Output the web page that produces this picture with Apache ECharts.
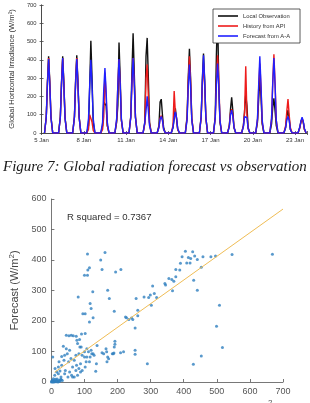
<!DOCTYPE html>
<html>
<head>
<meta charset="utf-8">
<script src="https://cdn.jsdelivr.net/npm/echarts@6/dist/echarts.min.js"></script>
<style>
html, body { margin: 0; padding: 0; background: #fff; }
#chart { width: 310px; height: 403px; }
</style>
</head>
<body>
<div id="chart"></div>
<script>
// top panel: one row per day (5 Jan .. 23 Jan), samples at these hours
var hours = [5, 8, 10, 12, 14, 16, 19];
var dayTicks = ['5 Jan', '8 Jan', '11 Jan', '14 Jan', '17 Jan', '20 Jan', '23 Jan'];
var irrTicks = [0, 100, 200, 300, 400, 500, 600, 700];

var obsDays = [
	[0, 90, 280, 420, 280, 90, 0],
	[0, 90, 280, 420, 275, 85, 0],
	[0, 90, 285, 425, 280, 90, 0],
	[0, 40, 250, 505, 300, 60, 0],
	[0, 40, 170, 180, 150, 40, 0],
	[0, 60, 150, 495, 300, 70, 0],
	[0, 90, 330, 545, 330, 90, 0],
	[0, 60, 420, 520, 300, 60, 0],
	[0, 40, 170, 185, 100, 30, 0],
	[0, 30, 80, 135, 80, 20, 0],
	[0, 90, 300, 460, 300, 80, 0],
	[0, 90, 290, 435, 290, 85, 0],
	[0, 90, 430, 670, 260, 60, 0],
	[0, 40, 130, 195, 120, 30, 0],
	[0, 40, 120, 210, 150, 30, 0],
	[0, 60, 180, 300, 200, 50, 0],
	[0, 50, 140, 190, 120, 40, 0],
	[0, 30, 90, 125, 80, 20, 0],
	[0, 30, 60, 80, 60, 20, 0]
];
var apiDays = [
	[0, 85, 270, 410, 270, 85, 0],
	[0, 85, 270, 410, 265, 80, 0],
	[0, 85, 275, 410, 270, 85, 0],
	[0, 20, 100, 90, 60, 15, 0],
	[0, 20, 90, 330, 200, 40, 0],
	[0, 70, 260, 400, 260, 70, 0],
	[0, 85, 270, 410, 270, 85, 0],
	[0, 50, 300, 375, 200, 50, 0],
	[0, 30, 80, 95, 70, 20, 0],
	[0, 40, 230, 110, 80, 20, 0],
	[0, 80, 280, 420, 280, 80, 0],
	[0, 80, 260, 380, 260, 80, 0],
	[0, 80, 280, 425, 300, 70, 0],
	[0, 40, 110, 130, 100, 30, 0],
	[0, 40, 110, 365, 100, 25, 0],
	[0, 70, 240, 380, 250, 60, 0],
	[0, 80, 280, 430, 270, 70, 0],
	[0, 40, 120, 185, 100, 30, 0],
	[0, 25, 60, 80, 60, 20, 0]
];
var fcDays = [
	[0, 85, 270, 405, 265, 85, 0],
	[0, 85, 265, 410, 260, 80, 0],
	[0, 85, 270, 405, 265, 85, 0],
	[0, 80, 260, 400, 260, 80, 0],
	[0, 60, 240, 355, 230, 60, 0],
	[0, 80, 265, 405, 265, 80, 0],
	[0, 85, 270, 410, 270, 85, 0],
	[0, 60, 120, 200, 120, 40, 0],
	[0, 30, 75, 90, 70, 20, 0],
	[0, 30, 80, 115, 85, 25, 0],
	[0, 70, 250, 375, 250, 70, 0],
	[0, 85, 280, 425, 280, 85, 0],
	[0, 80, 260, 380, 260, 70, 0],
	[0, 35, 100, 125, 90, 30, 0],
	[0, 35, 90, 100, 85, 25, 0],
	[0, 80, 260, 420, 260, 70, 0],
	[0, 80, 270, 410, 260, 70, 0],
	[0, 30, 70, 90, 70, 20, 0],
	[0, 30, 65, 87, 65, 25, 0]
];

// bottom panel: observed vs forecast (W/m2)
var scatterPts = [
	[109,420],[162,425],[149,400],[115,375],[110,367],[100,350],[109,350],[153,369],[125,296],[170,301],
	[194,361],[210,369],[175,274],[81,279],[117,257],[120,241],[95,224],[102,224],[126,211],[115,197],
	[190,232],[102,159],[91,157],[45,153],[53,152],[60,153],[66,152],[75,150],[85,139],[36,117],
	[405,429],[427,427],[433,413],[395,411],[414,408],[421,405],[441,402],[458,411],[482,411],[496,413],
	[546,418],[668,419],[409,390],[390,389],[419,390],[453,376],[376,369],[388,367],[355,339],[364,336],
	[376,345],[370,330],[343,323],[345,318],[306,315],[430,334],[441,301],[366,299],[311,290],[280,279],
	[299,285],[294,277],[318,277],[256,274],[508,252],[302,252],[261,235],[242,210],[227,211],[234,205],
	[246,205],[224,213],[261,217],[499,183],[253,177],[517,113],[453,85],[429,58],[290,60],[253,104],
	[253,91],[218,99],[209,96],[192,134],[192,124],[190,115],[189,95],[165,109],[167,99],[153,96],
	[158,93],[170,82],[168,66],[136,60],[134,35],[138,120],[184,93],[173,76],[187,93],
	[4,82],[11,44],[16,33],[21,27],[10,22],[26,36],[31,55],[23,66],[38,71],[31,84],
	[40,88],[48,93],[45,109],[55,104],[59,77],[52,66],[69,71],[64,49],[55,33],[40,27],
	[74,38],[79,22],[69,16],[83,44],[88,60],[83,93],[74,88],[93,88],[86,115],[90,115],
	[79,126],[77,137],[100,99],[107,109],[112,99],[117,82],[115,66],[122,93],[105,66],[102,49],
	[93,38],[64,16],[88,33],[50,16],[61,22],[76,55],[100,82],[107,82],[126,93],[129,88],
	[120,104],[29,16],[42,38],[21,49],
	[0,0],[2,3],[5,1],[8,4],[3,6],[10,2],[14,5],[18,3],[22,6],[26,4],
	[12,9],[30,7],[6,11],[17,10],[1,2],[4,0],[20,0],[9,0],[15,1],[24,2],[28,9],[33,5]
];
var trendX = [10, 700];
var trendY = [32, 567];
var rSquared = 0.7367;
var obsTicks = [0, 100, 200, 300, 400, 500, 600, 700];
var fcTicks = [0, 100, 200, 300, 400, 500, 600];

function daySeries(days) {
	var out = [];
	days.forEach(function (vals, d) {
		vals.forEach(function (v, k) {
			out.push([d + hours[k] / 24, v]);
		});
	});
	return out;
}

var chart = echarts.init(document.getElementById('chart'), null, { renderer: 'canvas' });
var sans = 'Liberation Sans, Arial, sans-serif';
var axisCol = '#444';

function boxAxis(extra) {
	return Object.assign({
		axisLine: { show: true, lineStyle: { color: axisCol, width: 0.8 } },
		axisTick: { show: true, inside: true, length: 2, lineStyle: { color: axisCol, width: 0.8 } },
		splitLine: { show: false }
	}, extra);
}

var option = {
	animation: false,
	backgroundColor: '#fff',
	grid: [
		{ left: 27, top: 5, width: 281, height: 128 },
		{ left: 39, top: 199, width: 244, height: 183 }
	],
	legend: {
		data: ['Local Observation', 'History from API', 'Forecast from A-A'],
		orient: 'vertical',
		left: 213, top: 9,
		backgroundColor: '#fff',
		borderColor: '#333', borderWidth: 0.8, borderRadius: 0,
		padding: [3, 10, 3, 5],
		itemWidth: 20, itemHeight: 1.6, itemGap: 2,
		icon: 'rect',
		textStyle: { fontFamily: sans, fontSize: 5.8, color: '#333', lineHeight: 8 }
	},
	xAxis: [
		boxAxis({
			gridIndex: 0, type: 'value', min: 0, max: 18.85, interval: 3,
			axisLabel: {
				fontFamily: sans, fontSize: 6, color: '#333', margin: 4,
				formatter: function (v) {
					var i = Math.round(v / 3);
					return Math.abs(v - i * 3) < 1e-6 ? (dayTicks[i] || '') : '';
				}
			}
		}),
		boxAxis({
			gridIndex: 0, type: 'value', min: 0, max: 18.85, interval: 3, position: 'top',
			axisLabel: { show: false }
		}),
		{
			gridIndex: 1, type: 'value', min: obsTicks[0], max: obsTicks[obsTicks.length - 1], interval: 100,
			axisLine: { show: true, lineStyle: { color: '#555', width: 0.8 } },
			axisTick: { show: true, inside: true, length: 3, lineStyle: { color: '#555', width: 0.8 } },
			splitLine: { show: false },
			axisLabel: { fontFamily: sans, fontSize: 9, color: '#555', margin: 5 }
		}
	],
	yAxis: [
		boxAxis({
			gridIndex: 0, type: 'value', min: irrTicks[0], max: irrTicks[irrTicks.length - 1], interval: 100,
			axisLabel: { fontFamily: sans, fontSize: 5.8, color: '#333', margin: 5 },
			name: 'Global Horizontal Irradiance (W/m²)',
			nameLocation: 'middle', nameGap: 18,
			nameTextStyle: { fontFamily: sans, fontSize: 7.6, color: '#333' }
		}),
		boxAxis({
			gridIndex: 0, type: 'value', min: 0, max: 700, interval: 100, position: 'right',
			axisLabel: { show: false }
		}),
		{
			gridIndex: 1, type: 'value', min: fcTicks[0], max: fcTicks[fcTicks.length - 1], interval: 100,
			axisLine: { show: true, lineStyle: { color: '#555', width: 0.8 } },
			axisTick: { show: true, inside: true, length: 3, lineStyle: { color: '#555', width: 0.8 } },
			splitLine: { show: false },
			axisLabel: { fontFamily: sans, fontSize: 9, color: '#555', margin: 5 },
			name: 'Forecast (W/m{s|2})',
			nameLocation: 'middle', nameGap: 21,
			nameTextStyle: {
				fontFamily: sans, fontSize: 11, color: '#444',
				rich: { s: { fontFamily: sans, fontSize: 8, color: '#444', verticalAlign: 'top', padding: [0, 0, 6, 0] } }
			}
		}
	],
	series: [
		{
			name: 'Local Observation', type: 'line', xAxisIndex: 0, yAxisIndex: 0,
			data: daySeries(obsDays), symbol: 'none', color: '#111',
			lineStyle: { color: '#111', width: 1.4 }
		},
		{
			name: 'History from API', type: 'line', xAxisIndex: 0, yAxisIndex: 0,
			data: daySeries(apiDays), symbol: 'none', color: '#ee1c1c',
			lineStyle: { color: '#ee1c1c', width: 1.4 }
		},
		{
			name: 'Forecast from A-A', type: 'line', xAxisIndex: 0, yAxisIndex: 0,
			data: daySeries(fcDays), symbol: 'none', color: '#2020ff',
			lineStyle: { color: '#2020ff', width: 1.4 }
		},
		{
			type: 'scatter', xAxisIndex: 2, yAxisIndex: 2,
			data: scatterPts, symbolSize: 3,
			itemStyle: { color: '#2f80bf' }
		},
		{
			type: 'line', xAxisIndex: 2, yAxisIndex: 2,
			data: [[trendX[0], trendY[0]], [trendX[1], trendY[1]]],
			symbol: 'none', lineStyle: { color: '#f0bd55', width: 1 }
		}
	],
	graphic: [
		{
			type: 'text', left: 3, top: 160,
			style: {
				text: 'Figure 7: Global radiation forecast vs observation',
				font: 'italic 15px "Liberation Serif", "Times New Roman", serif',
				fill: '#1a1a1a'
			}
		},
		{
			type: 'text', left: 67, top: 212,
			style: {
				text: 'R squared = ' + rSquared,
				font: '9.6px "Liberation Sans", Arial, sans-serif',
				fill: '#333'
			}
		},
		{
			type: 'text', left: 268, top: 399,
			style: { text: '2', font: '8px "Liberation Sans", Arial, sans-serif', fill: '#555' }
		}
	]
};
chart.setOption(option);
</script>
</body>
</html>
